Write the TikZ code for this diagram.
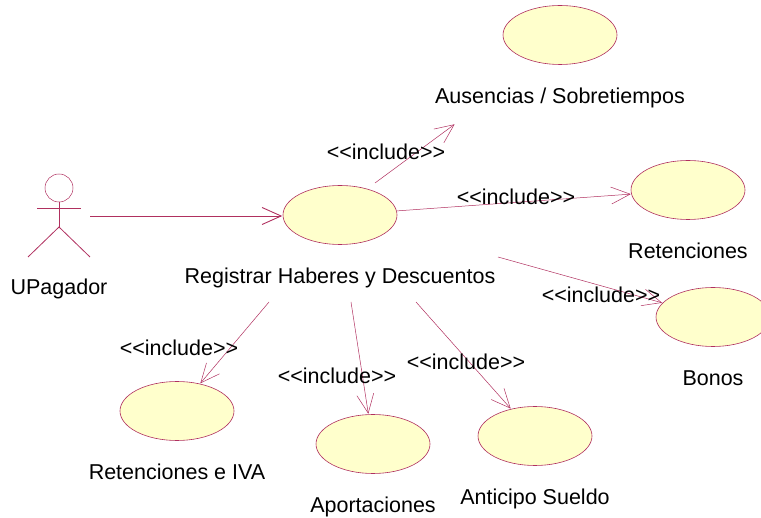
\documentclass[tikz,border=0pt]{standalone}
\usepackage{fontspec}
\setsansfont{Liberation Sans}
\RequirePackage{xcolor}
\definecolor{rosefill}{HTML}{FFFFCC}
\definecolor{roseline}{HTML}{B0305F}
\tikzset{every picture/.style={/utils/exec={\sffamily}}}
\usetikzlibrary{positioning}
\usetikzlibrary{shapes.geometric,arrows.meta}
\tikzset{
  usecase/.style={draw=roseline, fill=rosefill, ellipse, minimum width=114pt, minimum height=59pt, inner sep=0pt, line width=0.6pt},
  caselabel/.style={font=\fontsize{21.5}{24}\selectfont, inner sep=0pt, text height=16pt, text depth=5pt},
  includes/.style={->, >={Straight Barb[length=19pt,width=17pt]}, draw=roseline, line width=0.5pt, shorten >=0.5pt},
  actorline/.style={draw=roseline, line width=0.8pt},
}
\newcommand{\includetext}{<{}<include>{}>}

\begin{document}
\begin{tikzpicture}[x=1pt,y=-1pt]
  \useasboundingbox (0,0) rectangle (761,518);

  \node [usecase] (ausencias) at (560,35) {};
  \node [usecase] (registrar) at (340,215) {};
  \node [usecase] (retenciones) at (688,190) {};
  \node [usecase] (bonos) at (713,317) {};
  \node [usecase] (retiva) at (177,411) {};
  \node [usecase] (aportaciones) at (373,444) {};
  \node [usecase] (anticipo) at (535,436) {};

  \node [caselabel, below=22.5pt of ausencias] (ausenciaslabel) {Ausencias / Sobretiempos};
  \node [caselabel, below=22.5pt of registrar] (registrarlabel) {Registrar Haberes y Descuentos};
  \node [caselabel, below=22.5pt of retenciones] (retencioneslabel) {Retenciones};
  \node [caselabel, below=22.5pt of bonos] (bonoslabel) {Bonos};
  \node [caselabel, below=22.5pt of retiva] (retivalabel) {Retenciones e IVA};
  \node [caselabel, below=22.5pt of aportaciones] (aportacioneslabel) {Aportaciones};
  \node [caselabel, below=22.5pt of anticipo] (anticipolabel) {Anticipo Sueldo};

  % actor
  \node [draw=roseline, circle, minimum size=28pt, inner sep=0pt, line width=0.5pt] (head) at (59,188) {};
  \coordinate (hip) at (59,227);
  \coordinate (armleft) at (37,208);
  \coordinate (armright) at (81,208);
  \coordinate (legleft) at (28,257);
  \coordinate (legright) at (90,257);
  \draw [actorline] (head) -- (hip);
  \draw [actorline] (armleft) -- (armright);
  \draw [actorline] (legleft) -- (hip) -- (legright);
  \node [caselabel] (upagador) at (59,289) {UPagador};

  % free ends
  \coordinate (actorout) at (90,216);
  \coordinate (ausenciasout) at (375,183);
  \coordinate (ausenciastip) at (455,124);
  \coordinate (bonosout) at (498,257);
  \coordinate (retivaout) at (269,302);
  \coordinate (aportout) at (351,302);
  \coordinate (anticipoout) at (416,302);

  \draw [includes, line width=0.9pt] (actorout) -- (actorout -| registrar.west);
  \draw [includes] (ausenciasout) -- (ausenciastip);
  \draw [includes] (registrar) -- (retenciones);
  \draw [includes] (bonosout) -- (bonos);
  \draw [includes] (retivaout) -- (retiva);
  \draw [includes] (aportout) -- (aportaciones);
  \draw [includes] (anticipoout) -- (anticipo);

  \node [caselabel] (incausencias) at (386,154.5) {\includetext};
  \node [caselabel] (incretenciones) at (516,199) {\includetext};
  \node [caselabel] (incbonos) at (601,297.5) {\includetext};
  \node [caselabel] (incretiva) at (179,350.5) {\includetext};
  \node [caselabel] (incaport) at (337,378.5) {\includetext};
  \node [caselabel] (incanticipo) at (466,364.5) {\includetext};
\end{tikzpicture}
\end{document}
